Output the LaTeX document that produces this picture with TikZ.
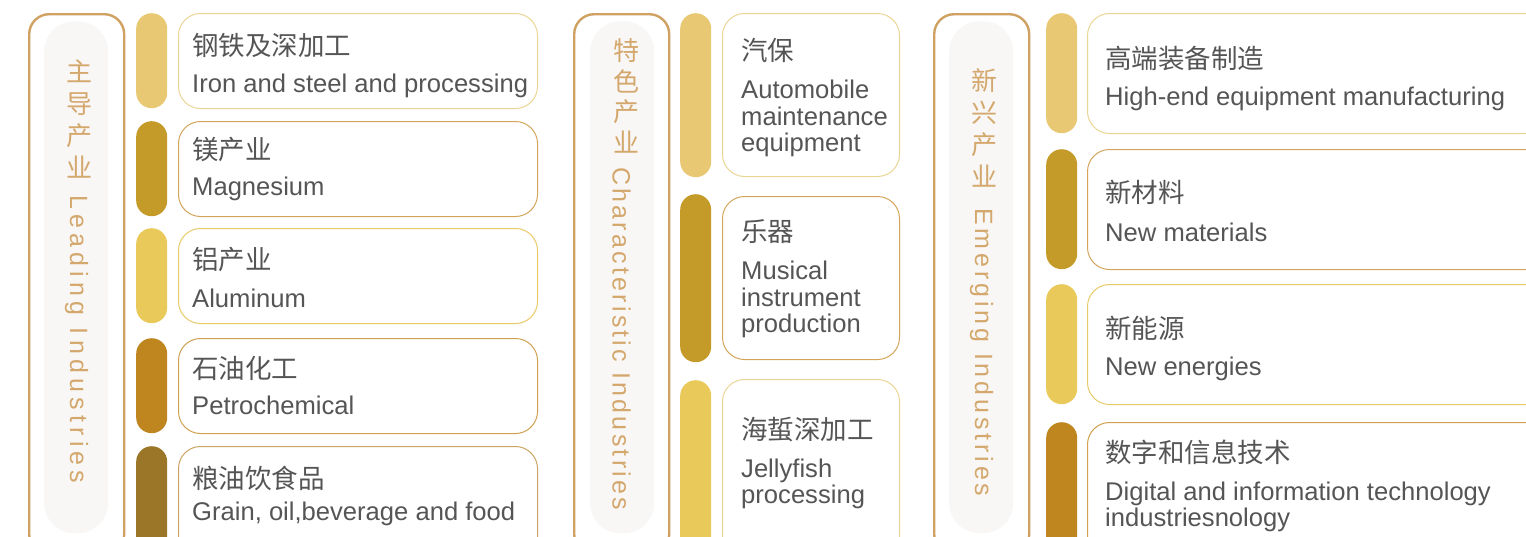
\documentclass[tikz,border=0pt]{standalone}
\usepackage{fontspec}
\setmainfont{Liberation Sans}
\newfontfamily\cjk{Noto Sans CJK SC}
\newfontfamily\lblfontL[LetterSpace=21]{Liberation Sans}
\newfontfamily\lblfontM[LetterSpace=13]{Liberation Sans}
\newfontfamily\lblfontR[LetterSpace=15.5]{Liberation Sans}
\definecolor{frameC}{HTML}{CFA263}
\definecolor{lblC}{HTML}{D4A76C}
\definecolor{pillC}{HTML}{F8F7F6}
\definecolor{txtC}{HTML}{555555}
\definecolor{barA}{HTML}{E8C872}
\definecolor{barB}{HTML}{C49A28}
\definecolor{barC}{HTML}{E9C95A}
\definecolor{barD}{HTML}{BF8620}
\definecolor{barE}{HTML}{9B7528}
\definecolor{bdA}{HTML}{EBD594}
\definecolor{bdB}{HTML}{D3A55A}
\definecolor{bdC}{HTML}{E8CA68}
\definecolor{bdD}{HTML}{D0A050}
\definecolor{bdE}{HTML}{C9A462}
\begin{document}
\begin{tikzpicture}[x=1pt,y=-1pt,
  frame/.style={draw=frameC, line width=2.4pt, rounded corners=20pt, minimum width=95pt, minimum height=540pt, anchor=north west, inner sep=0pt},
  pill/.style={fill=pillC, rounded corners=30pt, minimum width=64pt, minimum height=512pt, anchor=north west, inner sep=0pt},
  bar/.style={fill=#1, rounded corners=15.5pt, minimum width=31pt, anchor=north west, inner sep=0pt},
  box/.style={draw=#1, fill=white, line width=1pt, rounded corners=22pt, anchor=north west, inner sep=0pt},
  zh/.style={anchor=west, inner sep=0pt, font=\cjk\fontsize{26.5}{30}\selectfont, text=txtC},
  en/.style={anchor=west, inner sep=0pt, yshift=-2.5pt, align=left, font=\fontsize{25.6}{26.5}\selectfont, text=txtC},
  vzh/.style={inner sep=0pt, align=center, text=lblC, font=\cjk\fontsize{26}{#1}\selectfont},
  ven/.style={rotate=-90, anchor=west, inner sep=0pt, text=lblC}
]
\useasboundingbox (0,0) rectangle (1526,536);
\clip (0,0) rectangle (1526,536);

% ---------- Left column: Leading industries ----------
\node[frame] (Lframe) at (28,13) {};
\node[pill] (Lpill) at (44,21) {};
\node[vzh=32] (Lzh) at (79,119) {主\\导\\产\\业};
\node[ven, font=\lblfontL\fontsize{25}{30}\selectfont] (Len) at (76.5,195) {Leading Industries};

\node[bar=barA, minimum height=95pt] (Lb1) at (136,13) {};
\node[bar=barB, minimum height=95pt] (Lb2) at (136,121) {};
\node[bar=barC, minimum height=95pt] (Lb3) at (136,228) {};
\node[bar=barD, minimum height=95pt] (Lb4) at (136,338) {};
\node[bar=barE, minimum height=120pt] (Lb5) at (136,446) {};

\node[box=bdA, minimum width=359pt, minimum height=95pt] (Lx1) at (178,13) {};
\node[box=bdB, minimum width=359pt, minimum height=95pt] (Lx2) at (178,121) {};
\node[box=bdC, minimum width=359pt, minimum height=95pt] (Lx3) at (178,228) {};
\node[box=bdD, minimum width=359pt, minimum height=95pt] (Lx4) at (178,338) {};
\node[box=bdE, minimum width=359pt, minimum height=120pt] (Lx5) at (178,446) {};

\node[zh] (Lz1) at (192,45) {钢铁及深加工};
\node[en] (Le1) at (192,83) {Iron and steel and processing};
\node[zh] (Lz2) at (192,150) {镁产业};
\node[en] (Le2) at (192,186) {Magnesium};
\node[zh] (Lz3) at (192,260) {铝产业};
\node[en] (Le3) at (192,296) {Aluminum};
\node[zh] (Lz4) at (192,368) {石油化工};
\node[en] (Le4) at (192,403) {Petrochemical};
\node[zh] (Lz5) at (192,478) {粮油饮食品};
\node[en] (Le5) at (192,511) {Grain, oil,beverage and food};

% ---------- Middle column: Characteristic industries ----------
\node[frame] (Mframe) at (573,13) {};
\node[pill] (Mpill) at (590,21) {};
\node[vzh=30.5] (Mzh) at (626,96) {特\\色\\产\\业};
\node[ven, font=\lblfontM\fontsize{25}{30}\selectfont] (Men) at (621.5,167) {Characteristic Industries};

\node[bar=barA, minimum height=164pt] (Mb1) at (680,13) {};
\node[bar=barB, minimum height=168pt] (Mb2) at (680,194) {};
\node[bar=barC, minimum height=180pt] (Mb3) at (680,380) {};

\node[box=bdA, minimum width=177pt, minimum height=163pt] (Mx1) at (722,13) {};
\node[box=bdB, minimum width=177pt, minimum height=163pt] (Mx2) at (722,196) {};
\node[box=bdA, minimum width=177pt, minimum height=180pt] (Mx3) at (722,379) {};

\node[zh] (Mz1) at (741,50) {汽保};
\node[en] (Me1) at (741,116) {Automobile\\maintenance\\equipment};
\node[zh] (Mz2) at (741,232) {乐器};
\node[en] (Me2) at (741,297) {Musical\\instrument\\production};
\node[zh] (Mz3) at (741,430) {海蜇深加工};
\node[en] (Me3) at (741,481.5) {Jellyfish\\processing};

% ---------- Right column: Emerging industries ----------
\node[frame] (Rframe) at (933,13) {};
\node[pill] (Rpill) at (949,21) {};
\node[vzh=32] (Rzh) at (984,128) {新\\兴\\产\\业};
\node[ven, font=\lblfontR\fontsize{25}{30}\selectfont] (Ren) at (981.5,208) {Emerging Industries};

\node[bar=barA, minimum height=120pt] (Rb1) at (1046,13) {};
\node[bar=barB, minimum height=120pt] (Rb2) at (1046,149) {};
\node[bar=barC, minimum height=120pt] (Rb3) at (1046,284) {};
\node[bar=barD, minimum height=140pt] (Rb4) at (1046,422) {};

\node[box=bdA, minimum width=460pt, minimum height=120pt] (Rx1) at (1087,13) {};
\node[box=bdB, minimum width=460pt, minimum height=120pt] (Rx2) at (1087,149) {};
\node[box=bdC, minimum width=460pt, minimum height=120pt] (Rx3) at (1087,284) {};
\node[box=bdD, minimum width=460pt, minimum height=140pt] (Rx4) at (1087,422) {};

\node[zh] (Rz1) at (1105,58) {高端装备制造};
\node[en] (Re1) at (1105,96) {High-end equipment manufacturing};
\node[zh] (Rz2) at (1105,192) {新材料};
\node[en] (Re2) at (1105,230) {New materials};
\node[zh] (Rz3) at (1105,328) {新能源};
\node[en] (Re3) at (1105,366) {New energies};
\node[zh] (Rz4) at (1105,452) {数字和信息技术};
\node[en] (Re4) at (1105,504.5) {Digital and information technology\\industriesnology};
\end{tikzpicture}
\end{document}
